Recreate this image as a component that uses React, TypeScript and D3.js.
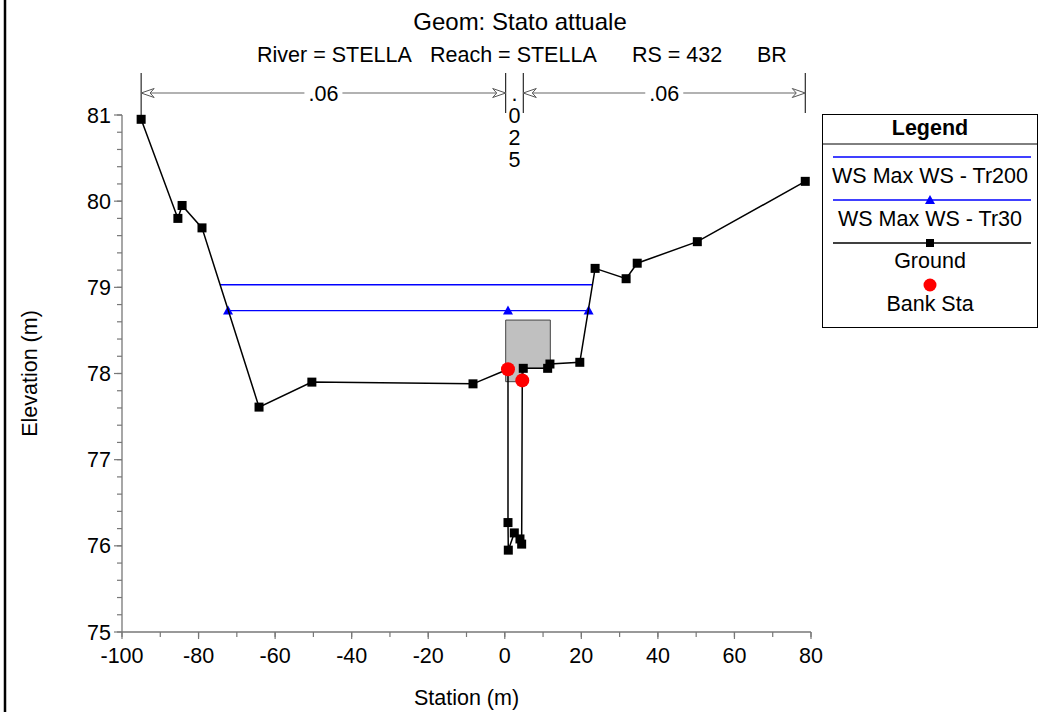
import React from 'react';
import * as d3 from 'd3';

// ---------- data ----------
const groundStation = [-95.0, -85.4, -84.3, -79.1, -64.2, -50.4, -8.3, 0.84, 0.84, 0.92, 2.49, 3.97, 4.41, 4.57, 4.83, 11.2, 11.8, 19.6, 23.6, 31.7, 34.6, 50.3, 78.5];
const groundElev = [80.95, 79.80, 79.95, 79.69, 77.61, 77.90, 77.88, 78.05, 76.27, 75.95, 76.15, 76.08, 76.02, 77.92, 78.06, 78.06, 78.11, 78.13, 79.22, 79.10, 79.28, 79.53, 80.23];
const bankStation = [0.84, 4.57];
const bankElev = [78.05, 77.92];
const wsTr200Station = [-74.4, 22.9];
const wsTr200Elev = [79.03, 79.03];
const wsTr30Station = [-72.3, 0.84, 21.9];
const wsTr30Elev = [78.73, 78.73, 78.73];
const deckStation = [0.24, 11.9, 11.9, 4.4, 4.4, 0.24];
const deckElev = [78.62, 78.62, 78.06, 78.06, 77.905, 77.905];
const nStations = [-95.0, 0.24, 4.83, 78.5];
const nValues = ['.06', '.025', '.06'];
const xTicks = [-100, -80, -60, -40, -20, 0, 20, 40, 60, 80];
const xMinorTicks = d3.range(-100, 81, 10);
const yTicks = [75, 76, 77, 78, 79, 80, 81];
const yMinorTicks = d3.range(75, 81.001, 0.2);

const title = 'Geom: Stato attuale';
const subtitleParts = ['River = STELLA', 'Reach = STELLA', 'RS = 432', 'BR'];
const legendItems = ['WS Max WS - Tr200', 'WS Max WS - Tr30', 'Ground', 'Bank Sta'];

const FONT = "'Liberation Sans', Arial, sans-serif";
const FS = 21.5;

export default function App() {
  const W = 1040, H = 712;
  const x = d3.scaleLinear().domain([-100, 80]).range([122, 811]);
  const y = d3.scaleLinear().domain([75, 81]).range([632, 115]);

  const line = d3.line<[number, number]>().x(d => x(d[0])).y(d => y(d[1]));
  const ground = groundStation.map((s, i) => [s, groundElev[i]] as [number, number]);
  const tr200 = wsTr200Station.map((s, i) => [s, wsTr200Elev[i]] as [number, number]);
  const tr30 = wsTr30Station.map((s, i) => [s, wsTr30Elev[i]] as [number, number]);
  const deck = deckStation.map((s, i) => [s, deckElev[i]] as [number, number]);

  const tri = (cx: number, cy: number, s = 5) => `M${cx},${cy - s}L${cx + s},${cy + s * 0.8}L${cx - s},${cy + s * 0.8}Z`;
  const arrowHead = (tx: number, ty: number, dir: number) => {
    const L = 13, w = 4.5, n = 9;
    return `M${tx},${ty}L${tx - dir * L},${ty - w}L${tx - dir * n},${ty}L${tx - dir * L},${ty + w}Z`;
  };

  const arrowY = 93;
  const subX = [257, 430, 632, 757];

  const lgX0 = 822.5, lgX1 = 1037.5, lgY0 = 114.5, lgY1 = 327.5;
  const lgCx = (lgX0 + lgX1) / 2;

  return (
    <svg width={W} height={H} style={{ position: 'absolute', left: 0, top: 0, background: '#fff' }} fontFamily={FONT}>
      <rect x={0} y={0} width={W} height={H} fill="#fff" />
      <line x1={5} x2={5} y1={0} y2={H} stroke="#000" strokeWidth={2.5} />

      <text x={520} y={30} textAnchor="middle" fontSize={24}>{title}</text>
      {subtitleParts.map((t, i) => (
        <text key={t} x={subX[i]} y={62} fontSize={FS}>{t}</text>
      ))}

      {nStations.map((s, i) => (
        <line key={'nv' + i} x1={x(s)} x2={x(s)} y1={73} y2={i === 0 ? 115 : 113} stroke="#000" strokeWidth={1} />
      ))}
      {nValues.map((v, i) => {
        const a = x(nStations[i]), b = x(nStations[i + 1]);
        const c = (a + b) / 2;
        if (b - a < 40) {
          return (
            <g key={'nt' + i}>
              {v.split('').map((ch, j) => (
                <text key={j} x={c} y={101 + j * 22} textAnchor="middle" fontSize={FS}>{ch}</text>
              ))}
            </g>
          );
        }
        const gap = 19;
        return (
          <g key={'nt' + i}>
            <line x1={a} x2={c - gap} y1={arrowY} y2={arrowY} stroke="#666" strokeWidth={1.2} />
            <line x1={c + gap} x2={b} y1={arrowY} y2={arrowY} stroke="#666" strokeWidth={1.2} />
            <path d={arrowHead(a, arrowY, -1)} fill="#fff" stroke="#555" strokeWidth={1} />
            <path d={arrowHead(b, arrowY, 1)} fill="#fff" stroke="#555" strokeWidth={1} />
            <text x={c} y={arrowY + 7.5} textAnchor="middle" fontSize={FS}>{v}</text>
          </g>
        );
      })}

      {/* axes */}
      <line x1={x(-100)} x2={x(-100)} y1={y(81)} y2={y(75)} stroke="#777" strokeWidth={1.3} />
      <line x1={x(-100)} x2={x(80)} y1={y(75)} y2={y(75)} stroke="#777" strokeWidth={1.3} />
      {yMinorTicks.map((t, i) => (
        <line key={'ym' + i} x1={x(-100) - 5} x2={x(-100)} y1={y(t)} y2={y(t)} stroke="#777" strokeWidth={1.2} />
      ))}
      {yTicks.map(t => (
        <g key={'y' + t}>
          <line x1={x(-100) - 8} x2={x(-100)} y1={y(t)} y2={y(t)} stroke="#777" strokeWidth={1.2} />
          <text x={x(-100) - 11} y={y(t)} dy="0.35em" textAnchor="end" fontSize={FS}>{t}</text>
        </g>
      ))}
      {xMinorTicks.map(t => (
        <line key={'xm' + t} x1={x(t)} x2={x(t)} y1={y(75)} y2={y(75) + 5} stroke="#777" strokeWidth={1.2} />
      ))}
      {xTicks.map(t => (
        <g key={'x' + t}>
          <line x1={x(t)} x2={x(t)} y1={y(75)} y2={y(75) + 7} stroke="#777" strokeWidth={1.2} />
          <text x={x(t)} y={663} textAnchor="middle" fontSize={FS}>{t}</text>
        </g>
      ))}
      <text x={(x(-100) + x(80)) / 2} y={705} textAnchor="middle" fontSize={FS}>Station (m)</text>
      <text transform={`translate(37,${(y(75) + y(81)) / 2}) rotate(-90)`} textAnchor="middle" fontSize={FS}>Elevation (m)</text>

      <path d={line(deck) + 'Z'} fill="#c0c0c0" stroke="#444" strokeWidth={1} />

      <path d={line(tr200) || ''} fill="none" stroke="#0000ff" strokeWidth={1.3} />
      <path d={line(tr30) || ''} fill="none" stroke="#0000ff" strokeWidth={1.3} />
      {tr30.map((d, i) => (
        <path key={'t' + i} d={tri(x(d[0]), y(d[1]))} fill="#0000ff" />
      ))}

      <path d={line(ground) || ''} fill="none" stroke="#000" strokeWidth={1.5} />
      {ground.map((d, i) => (
        <rect key={'g' + i} x={x(d[0]) - 4.5} y={y(d[1]) - 4.5} width={9} height={9} fill="#000" />
      ))}

      {bankStation.map((s, i) => (
        <circle key={'b' + i} cx={x(s)} cy={y(bankElev[i])} r={7} fill="#ff0000" />
      ))}

      {/* legend */}
      <rect x={lgX0} y={lgY0} width={lgX1 - lgX0} height={lgY1 - lgY0} fill="#fff" stroke="#000" strokeWidth={1} />
      <line x1={lgX0} x2={lgX1} y1={144} y2={144} stroke="#000" strokeWidth={1} />
      <text x={lgCx} y={135} textAnchor="middle" fontSize={FS} fontWeight="bold">Legend</text>
      <line x1={833} x2={1031} y1={157} y2={157} stroke="#0000ff" strokeWidth={1.3} />
      <text x={lgCx} y={183} textAnchor="middle" fontSize={FS}>{legendItems[0]}</text>
      <line x1={833} x2={1031} y1={200} y2={200} stroke="#0000ff" strokeWidth={1.3} />
      <path d={tri(lgCx, 200)} fill="#0000ff" />
      <text x={lgCx} y={226} textAnchor="middle" fontSize={FS}>{legendItems[1]}</text>
      <line x1={833} x2={1031} y1={243} y2={243} stroke="#000" strokeWidth={1.3} />
      <rect x={lgCx - 4} y={239} width={8} height={8} fill="#000" />
      <text x={lgCx} y={268} textAnchor="middle" fontSize={FS}>{legendItems[2]}</text>
      <circle cx={lgCx} cy={285} r={6.5} fill="#ff0000" />
      <text x={lgCx} y={311} textAnchor="middle" fontSize={FS}>{legendItems[3]}</text>
    </svg>
  );
}
